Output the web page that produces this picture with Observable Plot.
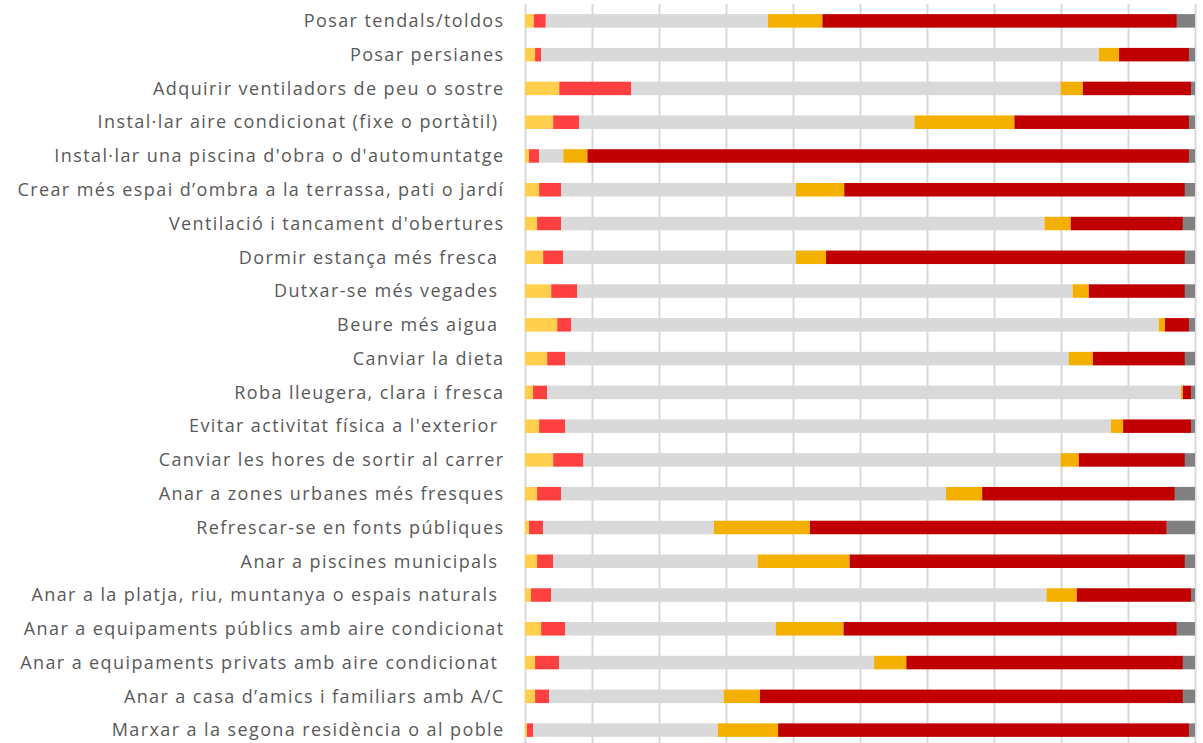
<!DOCTYPE html>
<html><head><meta charset="utf-8">
<script src="https://cdn.jsdelivr.net/npm/d3@7"></script>
<script src="https://cdn.jsdelivr.net/npm/@observablehq/plot@0.6"></script>
<style>
body{margin:0;background:#fff;overflow:hidden}
svg text{white-space:pre}
</style>
</head><body><div id="chart"></div><script>
const categories = [
  "Posar tendals/toldos",
  "Posar persianes",
  "Adquirir ventiladors de peu o sostre",
  "Instal·lar aire condicionat (fixe o portàtil) ",
  "Instal·lar una piscina d'obra o d'automuntatge",
  "Crear més espai d’ombra a la terrassa, pati o jardí",
  "Ventilació i tancament d'obertures",
  "Dormir estança més fresca ",
  "Dutxar-se més vegades ",
  "Beure més aigua ",
  "Canviar la dieta",
  "Roba lleugera, clara i fresca",
  "Evitar activitat física a l'exterior ",
  "Canviar les hores de sortir al carrer",
  "Anar a zones urbanes més fresques",
  "Refrescar-se en fonts públiques",
  "Anar a piscines municipals ",
  "Anar a la platja, riu, muntanya o espais naturals ",
  "Anar a equipaments públics amb aire condicionat",
  "Anar a equipaments privats amb aire condicionat ",
  "Anar a casa d’amics i familiars amb A/C",
  "Marxar a la segona residència o al poble"
];
const seriesNames = ["Sèrie 1", "Sèrie 2", "Sèrie 3", "Sèrie 4", "Sèrie 5", "Sèrie 6"];
const seriesColors = ["#FFCF4D", "#FF4040", "#D9D9D9", "#F4B000", "#C00000", "#808080"];
const s1 = [1.3, 1.5, 5.1, 4.2, 0.6, 2.1, 1.8, 2.7, 3.9, 4.8, 3.3, 1.2, 2.1, 4.2, 1.8, 0.6, 1.8, 0.9, 2.4, 1.5, 1.5, 0.3];
const s2 = [1.8, 0.9, 10.7, 3.9, 1.5, 3.3, 3.6, 3.0, 3.9, 2.1, 2.7, 2.1, 3.9, 4.5, 3.6, 2.1, 2.4, 3.0, 3.6, 3.6, 2.1, 0.9];
const s3 = [33.1, 83.0, 63.9, 49.9, 3.6, 34.9, 71.9, 34.6, 73.7, 87.5, 74.9, 94.3, 81.2, 71.0, 57.3, 25.4, 30.4, 73.7, 31.3, 46.9, 26.0, 27.5];
const s4 = [8.1, 3.0, 3.3, 14.9, 3.6, 7.2, 3.9, 4.5, 2.4, 0.9, 3.6, 0.3, 1.8, 2.7, 5.4, 14.3, 13.7, 4.5, 10.1, 4.8, 5.4, 9.0];
const s5 = [52.8, 10.4, 16.1, 26.0, 89.6, 50.7, 16.7, 53.4, 14.3, 3.6, 13.7, 1.2, 10.1, 15.8, 28.7, 53.1, 49.9, 17.0, 49.6, 41.2, 63.0, 61.2];
const s6 = [2.7, 0.9, 0.6, 0.9, 0.9, 1.5, 1.8, 1.5, 1.5, 0.9, 1.5, 0.6, 0.6, 1.5, 3.0, 4.2, 1.5, 0.6, 2.7, 1.8, 1.8, 0.9];
const gridTicks = [0, 0.1, 0.2, 0.3, 0.4, 0.5, 0.6, 0.7, 0.8, 0.9, 1];

const seriesValues = [s1, s2, s3, s4, s5, s6];
const data = [];
categories.forEach((c, i) => {
  seriesValues.forEach((arr, j) => {
    data.push({category: c, series: seriesNames[j], value: arr[i]});
  });
});

const chart = Plot.plot({
  width: 1203,
  height: 747,
  marginLeft: 525,
  marginRight: 8,
  marginTop: 4,
  marginBottom: 0,
  style: {fontFamily: "'Open Sans', sans-serif", fontSize: "18px", color: "#595959", background: "#fff", letterSpacing: "1.4px"},
  x: {domain: [0, 1], axis: null},
  y: {domain: categories, paddingInner: 0.6, paddingOuter: 0.3, round: false, label: null, axis: null},
  color: {domain: seriesNames, range: seriesColors},
  marks: [
    Plot.ruleX(gridTicks, {x: d => d, stroke: "#D9D9D9", strokeWidth: 2}),
    Plot.barX(data, Plot.stackX({
      x: "value", y: "category", fill: "series", order: seriesNames, offset: "normalize"
    })),
    Plot.axisY({tickSize: 0, tickPadding: 21, label: null, fill: "#595959", fontSize: 18})
  ]
});
document.getElementById("chart").append(chart);
</script></body></html>
